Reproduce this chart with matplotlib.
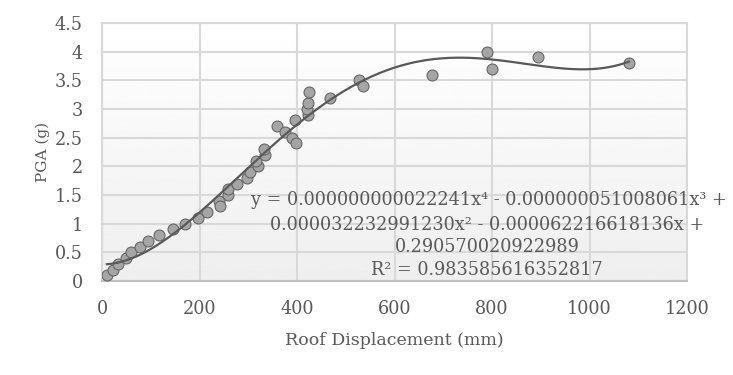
import numpy as np
import matplotlib
matplotlib.use("Agg")
import matplotlib.pyplot as plt

# datos
roof_disp = [10, 23, 32, 49, 59, 78, 95, 116, 145, 170, 196, 216, 239, 243, 258, 259,
             276, 297, 304, 321, 316, 334, 333, 358, 375, 389, 398, 396, 423, 421, 422,
             425, 468, 528, 535, 676, 790, 799, 894, 1081]
pga = [0.1, 0.2, 0.3, 0.4, 0.5, 0.6, 0.7, 0.8, 0.9, 1.0, 1.1, 1.2, 1.4, 1.3, 1.5, 1.6,
       1.7, 1.8, 1.9, 2.0, 2.1, 2.2, 2.3, 2.7, 2.6, 2.5, 2.4, 2.8, 2.9, 3.0, 3.1,
       3.3, 3.2, 3.5, 3.4, 3.6, 4.0, 3.7, 3.9, 3.8]

# coeficientes de la linea de tendencia (polinomio grado 4)
coefs = [0.000000000022241, -0.000000051008061, 0.000032232991230,
         -0.000062216618136, 0.290570020922989]

eq_lines = ["y = 0.000000000022241x⁴ - 0.000000051008061x³ +",
            "0.000032232991230x² - 0.000062216618136x +",
            "0.290570020922989",
            "R² = 0.983585616352817"]

x_ticks = [0, 200, 400, 600, 800, 1000, 1200]
y_ticks = [0, 0.5, 1, 1.5, 2, 2.5, 3, 3.5, 4, 4.5]

plt.rcParams['font.family'] = 'DejaVu Serif'
txt_color = '#595959'

fig = plt.figure(figsize=(7.33, 3.75), dpi=100)
ax = fig.add_axes([102/733, 1-281/375, 585/733, 258/375])

# fondo con degradado
grad = np.linspace(1.0, 0.935, 256).reshape(-1, 1)
ax.imshow(grad, cmap='gray', vmin=0, vmax=1, aspect='auto',
          extent=[0, 1, 0, 1], transform=ax.transAxes, zorder=0)

ax.set_xlim(0, 1200)
ax.set_ylim(0, 4.5)
ax.set_xticks(x_ticks)
ax.set_yticks(y_ticks)
ax.set_yticklabels([f"{v:g}" for v in y_ticks])
ax.grid(True, color='#d9d9d9', linewidth=1.5, zorder=1)
ax.set_axisbelow(True)
for s in ['top', 'right', 'left']:
    ax.spines[s].set_color('#d9d9d9')
    ax.spines[s].set_linewidth(1.5)
ax.spines['bottom'].set_color('#bfbfbf')
ax.spines['bottom'].set_linewidth(1.5)
ax.tick_params(length=0, labelsize=12.7, colors=txt_color)
ax.tick_params(axis='y', pad=13.7)
ax.tick_params(axis='x', pad=13.5)

# puntos
ax.scatter(roof_disp, pga, s=62, color='#a5a5a5', edgecolors='#666666',
           linewidths=0.8, zorder=3)

# tendencia
xt = np.linspace(min(roof_disp), max(roof_disp), 300)
ax.plot(xt, np.polyval(coefs, xt), color='#595959', linewidth=1.6, zorder=4)

# ecuacion (centrada, puede salir del area de trazado)
eq_pos = [(794, 1.41), (790, 0.98), (790, 0.59), (790, 0.19)]
for (ex, ey), line in zip(eq_pos, eq_lines):
    ax.text(ex, ey, line, ha='center', va='center', fontsize=12.7,
            color=txt_color, zorder=5)

ax.set_xlabel("Roof Displacement (mm)", fontsize=12.5, color=txt_color, labelpad=10)
ax.set_ylabel("PGA (g)", fontsize=11, color=txt_color, labelpad=3.5)

fig.savefig("out.png", dpi=100)
